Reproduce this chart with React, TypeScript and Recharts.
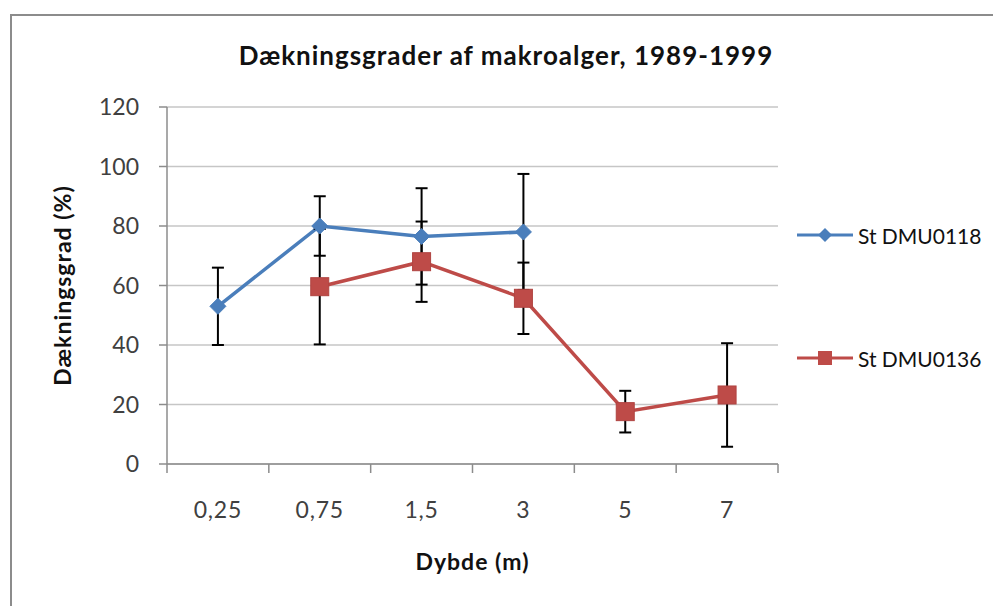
import { CartesianGrid, ErrorBar, Label, Legend, Line, LineChart, XAxis, YAxis } from "recharts";

const depths = ["0,25", "0,75", "1,5", "3", "5", "7"];
const dmu0118 = [53, 80, 76.5, 78, null, null];
const dmu0118Err = [13, 10, 16.2, 19.5, null, null];
const dmu0136 = [null, 59.6, 68, 55.7, 17.6, 23.2];
const dmu0136Err = [null, 19.4, 13.5, 12, 7, 17.4];
const yTicks = [0, 20, 40, 60, 80, 100, 120];

const BLUE = "#4A7EBB";
const RED = "#BE4B48";
const AXIS = "#8c8c8c";
const FONT = "Lato, 'Open Sans', sans-serif";
const X_TICK_MARGIN = 38;

const data = depths.map((d, i) => ({
  depth: d,
  s118: dmu0118[i],
  e118: dmu0118Err[i],
  s136: dmu0136[i],
  e136: dmu0136Err[i],
}));

function Diamond(props: any) {
  const { cx, cy, index } = props;
  if (cx == null || cy == null) return <g key={index} />;
  const r = 8;
  return (
    <polygon
      key={index}
      points={`${cx},${cy - r} ${cx + r},${cy} ${cx},${cy + r} ${cx - r},${cy}`}
      fill={BLUE}
      stroke={BLUE}
    />
  );
}

function Square(props: any) {
  const { cx, cy, index } = props;
  if (cx == null || cy == null) return <g key={index} />;
  const r = 9;
  return <rect key={index} x={cx - r} y={cy - r} width={r * 2} height={r * 2} fill={RED} stroke="#b04441" />;
}

// category labels in the middle, tick marks on the band edges (Excel style)
function DepthTick(props: any) {
  const { x, y, payload, index, visibleTicksCount } = props;
  const half = payload.offset ?? 0;
  const axisY = y - X_TICK_MARGIN;
  return (
    <g>
      <line x1={x - half} x2={x - half} y1={axisY} y2={axisY + 9} stroke={AXIS} strokeWidth={1.5} />
      {index === visibleTicksCount - 1 && (
        <line x1={x + half} x2={x + half} y1={axisY} y2={axisY + 9} stroke={AXIS} strokeWidth={1.5} />
      )}
      <text x={x} y={y} dy="0.71em" textAnchor="middle" fontFamily={FONT} fontSize={23} letterSpacing={0.8} fill="#404040">
        {payload.value}
      </text>
    </g>
  );
}

function YTitle(props: any) {
  const vb = props.viewBox;
  const x = vb.x + 62;
  const y = vb.y + vb.height / 2;
  return (
    <text
      x={x}
      y={y}
      transform={`rotate(-90, ${x}, ${y})`}
      textAnchor="middle"
      dominantBaseline="central"
      fontFamily={FONT}
      fontWeight={700}
      fontSize={23}
      letterSpacing={1}
      fill="#111"
    >
      Dækningsgrad (%)
    </text>
  );
}

function LegendBox() {
  const items = [
    { name: "St DMU0118", color: BLUE, shape: "diamond" },
    { name: "St DMU0136", color: RED, shape: "square" },
  ];
  return (
    <div style={{ fontFamily: FONT }}>
      {items.map((it, i) => (
        <div key={it.name} style={{ display: "flex", alignItems: "center", height: 26, marginBottom: i === 0 ? 97 : 0 }}>
          <svg width={58} height={26}>
            <line x1={0} y1={13} x2={56} y2={13} stroke={it.color} strokeWidth={3} />
            {it.shape === "diamond" ? (
              <polygon points="28,6 35,13 28,20 21,13" fill={it.color} />
            ) : (
              <rect x={21} y={6} width={14} height={14} fill={it.color} />
            )}
          </svg>
          <span style={{ fontSize: 21, color: "#111", marginLeft: 3, whiteSpace: "nowrap" }}>{it.name}</span>
        </div>
      ))}
    </div>
  );
}

export default function App() {
  return (
    <div style={{ position: "absolute", left: 0, top: 0, width: 993, height: 606, background: "#fff", overflow: "hidden" }}>
      <div
        style={{
          position: "absolute",
          left: 10,
          top: 14,
          width: 1000,
          height: 620,
          borderLeft: "2px solid #8c8c8c",
          borderTop: "2px solid #8c8c8c",
        }}
      />
      <div
        style={{
          position: "absolute",
          left: 0,
          width: 1012,
          top: 39,
          textAlign: "center",
          fontFamily: FONT,
          fontWeight: 700,
          fontSize: 26,
          letterSpacing: 1,
          color: "#111",
        }}
      >
        Dækningsgrader af makroalger, 1989-1999
      </div>
      <div style={{ position: "absolute", left: 0, top: 0 }}>
        <LineChart width={993} height={606} data={data} margin={{ top: 107, right: 215, bottom: 32, left: 0 }}>
          <CartesianGrid vertical={false} stroke="#c6c6c6" strokeWidth={1.5} />
          <XAxis
            dataKey="depth"
            scale="band"
            height={110}
            stroke={AXIS}
            strokeWidth={1.5}
            tickLine={false}
            tickSize={0}
            tickMargin={X_TICK_MARGIN}
            tick={<DepthTick />}
            interval={0}
          >
            <Label
              value="Dybde (m)"
              position="insideBottom"
              offset={4}
              style={{ fontFamily: FONT, fontWeight: 700, fontSize: 23, letterSpacing: 1, fill: "#111" }}
            />
          </XAxis>
          <YAxis
            width={167}
            domain={[0, 120]}
            ticks={yTicks}
            tickSize={8}
            tickMargin={20}
            stroke={AXIS}
            strokeWidth={1.5}
            tick={{ fontFamily: FONT, fontSize: 23, fill: "#404040" }}
          >
            <Label content={<YTitle />} />
          </YAxis>
          <Legend
            layout="horizontal"
            align="center"
            verticalAlign="middle"
            wrapperStyle={{ left: 797, top: 222, width: 196 }}
            content={<LegendBox />}
          />
          <Line
            type="linear"
            dataKey="s118"
            name="St DMU0118"
            stroke={BLUE}
            strokeWidth={3.5}
            dot={Diamond}
            isAnimationActive={false}
          >
            <ErrorBar dataKey="e118" width={6} stroke="#000" strokeWidth={2} direction="y" />
          </Line>
          <Line
            type="linear"
            dataKey="s136"
            name="St DMU0136"
            stroke={RED}
            strokeWidth={3.5}
            dot={Square}
            isAnimationActive={false}
          >
            <ErrorBar dataKey="e136" width={6} stroke="#000" strokeWidth={2} direction="y" />
          </Line>
        </LineChart>
      </div>
    </div>
  );
}
